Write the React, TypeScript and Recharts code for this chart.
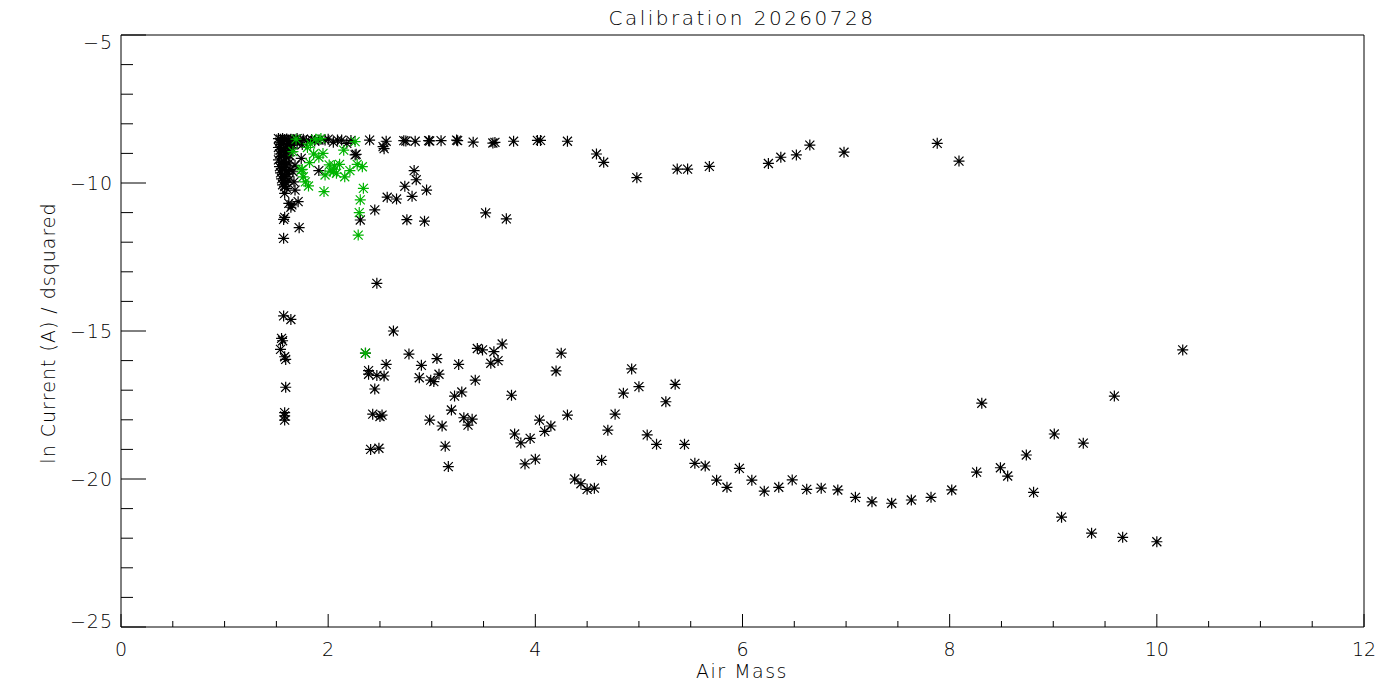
import React from "react"
import { ScatterChart, Scatter, XAxis, YAxis } from "recharts"

// air mass vs ln current
const blackPoints: [number, number][] = [
  // dense column near airmass 1.55
  [1.52, -8.5], [1.54, -8.52], [1.56, -8.5], [1.58, -8.53], [1.6, -8.51], [1.62, -8.55], [1.64, -8.52], [1.67, -8.54],
  [1.7, -8.5], [1.73, -8.55], [1.76, -8.52], [1.79, -8.56], [1.84, -8.53], [1.87, -8.58], [1.91, -8.55],
  [1.53, -8.62], [1.55, -8.7], [1.57, -8.66], [1.6, -8.75], [1.63, -8.68], [1.66, -8.72], [1.7, -8.65], [1.75, -8.7],
  [1.52, -8.8], [1.54, -8.88], [1.57, -8.84], [1.59, -8.95], [1.62, -8.9], [1.65, -8.82],
  [1.53, -9.02], [1.55, -9.1], [1.58, -9.05], [1.6, -9.15], [1.63, -9.08],
  [1.52, -9.22], [1.55, -9.3], [1.57, -9.26], [1.59, -9.38], [1.62, -9.33],
  [1.53, -9.45], [1.55, -9.52], [1.58, -9.48], [1.6, -9.58], [1.63, -9.55],
  [1.54, -9.66], [1.56, -9.72], [1.58, -9.78], [1.61, -9.7],
  [1.55, -9.86], [1.57, -9.92], [1.59, -9.98], [1.62, -9.9],
  [1.56, -10.06], [1.58, -10.12], [1.6, -10.18],
  [1.58, -10.35], [1.62, -10.69], [1.71, -10.63], [1.64, -10.82], [1.58, -11.16], [1.57, -11.23], [1.72, -11.51], [1.57, -11.87],
  [1.74, -9.17], [1.91, -9.58], [1.68, -10.24], [1.67, -9.96], [1.65, -10.74], [1.68, -9.4], [1.66, -9.62],
  // upper band
  [1.97, -8.55], [2.0, -8.52], [2.05, -8.62], [2.09, -8.55], [2.13, -8.55], [2.18, -8.66], [2.22, -8.56], [2.4, -8.55],
  [2.26, -9.05], [2.27, -9.03], [2.53, -8.77], [2.54, -8.84],
  [2.56, -8.59], [2.73, -8.57], [2.75, -8.58], [2.84, -8.59], [2.97, -8.57], [2.98, -8.58], [3.09, -8.57], [3.24, -8.55],
  [3.25, -8.57], [3.4, -8.62], [3.59, -8.65], [3.61, -8.63], [3.79, -8.59], [4.02, -8.56], [4.05, -8.56], [4.31, -8.59],
  [4.59, -9.02], [4.66, -9.3], [4.98, -9.82], [5.37, -9.53], [5.47, -9.53], [5.68, -9.44], [6.25, -9.34], [6.37, -9.13],
  [6.52, -9.05], [6.65, -8.72], [6.98, -8.96], [7.88, -8.66], [8.09, -9.26],
  [2.83, -9.58], [2.85, -9.89], [2.74, -10.11], [2.95, -10.24], [2.57, -10.48], [2.66, -10.54], [2.81, -10.45],
  [3.52, -11.01], [3.72, -11.21], [2.76, -11.24], [2.93, -11.29], [2.45, -10.91], [2.31, -11.25],
  // lower band
  [2.47, -13.39], [1.57, -14.49], [1.64, -14.61], [1.55, -15.25], [1.56, -15.33], [1.54, -15.62], [1.58, -15.87],
  [1.59, -15.96], [1.59, -16.9], [1.58, -17.76], [1.58, -17.87], [1.58, -18.01],
  [2.63, -15.0], [2.36, -15.75], [2.78, -15.78], [3.05, -15.93], [2.56, -16.13], [2.9, -16.16], [3.26, -16.13],
  [3.44, -15.59], [3.49, -15.64], [3.6, -15.7], [3.68, -15.44], [3.57, -16.09], [3.64, -16.0], [4.25, -15.75], [4.2, -16.35],
  [2.39, -16.34], [2.39, -16.46], [2.47, -16.5], [2.54, -16.52], [2.88, -16.58], [2.99, -16.66], [3.02, -16.71],
  [3.07, -16.46], [3.42, -16.66], [2.45, -16.96], [3.22, -17.2], [3.29, -17.06], [3.77, -17.17], [3.19, -17.67],
  [2.43, -17.81], [2.5, -17.89], [2.52, -17.84], [2.98, -18.01], [3.31, -17.93], [3.39, -17.98], [3.35, -18.18],
  [3.1, -18.21], [4.04, -18.01], [4.15, -18.21], [4.09, -18.39], [3.8, -18.48], [3.95, -18.63], [3.86, -18.78],
  [2.41, -19.0], [2.49, -18.96], [3.13, -18.89], [3.16, -19.58], [3.9, -19.49], [4.0, -19.33],
  [4.93, -16.28], [4.85, -17.1], [5.0, -16.88], [5.35, -16.8], [5.26, -17.39], [4.31, -17.84], [4.77, -17.81],
  [4.7, -18.35], [5.08, -18.51], [5.17, -18.83], [5.44, -18.83], [4.64, -19.37], [5.54, -19.47], [5.64, -19.56], [5.97, -19.64],
  [4.38, -20.0], [4.44, -20.16], [4.5, -20.35], [4.57, -20.31], [5.75, -20.04], [5.85, -20.28], [6.09, -20.04],
  [6.21, -20.41], [6.35, -20.28], [6.48, -20.03], [6.62, -20.35], [6.76, -20.31], [6.92, -20.37], [7.09, -20.62],
  [7.25, -20.77], [7.44, -20.82], [7.63, -20.71], [7.82, -20.62], [8.02, -20.37],
  [10.25, -15.64], [9.59, -17.2], [8.31, -17.44], [9.01, -18.48], [9.29, -18.79], [8.74, -19.19], [8.26, -19.77],
  [8.49, -19.62], [8.56, -19.9], [8.81, -20.45], [9.08, -21.29], [9.37, -21.83], [9.67, -21.97], [10.0, -22.12],
]

const greenPoints: [number, number][] = [
  [1.69, -8.52], [1.88, -8.52], [1.83, -8.68], [1.93, -8.5], [2.26, -8.6], [1.66, -8.94], [1.86, -9.02], [1.91, -9.13],
  [1.95, -9.0], [2.15, -8.89], [1.82, -9.31], [2.01, -9.39], [2.11, -9.37], [2.28, -9.37], [2.33, -9.45], [1.75, -9.54],
  [1.97, -9.73], [2.05, -9.62], [2.08, -9.67], [2.16, -9.79], [2.21, -9.58], [1.78, -9.96], [1.81, -10.1], [1.76, -9.79],
  [1.96, -10.29], [2.34, -10.18], [2.31, -10.57], [2.3, -11.0], [2.29, -11.76], [2.36, -15.75], [1.8, -8.8],
  [2.06, -9.42], [1.74, -9.56], [2.02, -9.6],
]

const xTicks = [0, 0.5, 1, 1.5, 2, 2.5, 3, 3.5, 4, 4.5, 5, 5.5, 6, 6.5, 7, 7.5, 8, 8.5, 9, 9.5, 10, 10.5, 11, 11.5, 12]
const yTicks = [-25, -24, -23, -22, -21, -20, -19, -18, -17, -16, -15, -14, -13, -12, -11, -10, -9, -8, -7, -6, -5]

const toRows = (pts: [number, number][]) => pts.map(([x, y]) => ({ x, y }))

const font = "'DejaVu Sans', sans-serif"
const fmt = (v: number) => String(v).replace("-", "\u2212")

const Star = (props: any) => {
  const { cx, cy, fill } = props
  const r = 5.5
  const d = 4.5
  return (
    <path
      d={`M${cx - r},${cy}H${cx + r}M${cx},${cy - r}V${cy + r}M${cx - d},${cy - d}L${cx + d},${cy + d}M${cx - d},${cy + d}L${cx + d},${cy - d}`}
      stroke={fill}
      strokeWidth={1.2}
      fill="none"
    />
  )
}

const BottomTick = (props: any) => {
  const { x, y, payload } = props
  const major = payload.value % 2 === 0
  return (
    <g>
      <line x1={x} x2={x} y1={y} y2={y - (major ? 13 : 6)} stroke="#000" />
      {major && (
        <text x={x} y={y + 29} textAnchor="middle" fontSize={19} fontFamily={font} fontWeight={200} fill="#000">
          {fmt(payload.value)}
        </text>
      )}
    </g>
  )
}

const TopTick = (props: any) => {
  const { x, y, payload } = props
  const major = payload.value % 2 === 0
  return <line x1={x} x2={x} y1={y} y2={y + (major ? 13 : 6)} stroke="#000" />
}

// the end labels sit inside the frame in the original
const yLabelShift = (v: number) => (v === -5 ? 7 : v === -25 ? -6 : 0)

const LeftTick = (props: any) => {
  const { x, y, payload } = props
  const major = payload.value % 5 === 0
  return (
    <g>
      <line x1={x} x2={x + (major ? 25 : 12)} y1={y} y2={y} stroke="#000" />
      {major && (
        <text
          x={x - 8}
          y={y + yLabelShift(payload.value)}
          textAnchor="end"
          dominantBaseline="central"
          fontSize={19}
          fontFamily={font}
          fontWeight={200}
          letterSpacing={1}
          fill="#000"
        >
          {fmt(payload.value)}
        </text>
      )}
    </g>
  )
}

const RightTick = (props: any) => {
  const { x, y, payload } = props
  const major = payload.value % 5 === 0
  return <line x1={x} x2={x - (major ? 25 : 12)} y1={y} y2={y} stroke="#000" />
}

const labelProps = {
  fontFamily: font,
  fontWeight: 200,
  fontSize: 19,
  fill: "#000",
  textAnchor: "middle" as const,
  dominantBaseline: "central" as const,
}

export default function App() {
  return (
    <div style={{ position: "absolute", left: 0, top: 0, width: 1400, height: 700, background: "#fff" }}>
      <ScatterChart width={1400} height={700} margin={{ top: 34, right: 35, bottom: 33, left: 61 }}>
        <XAxis
          xAxisId="bottom"
          type="number"
          dataKey="x"
          domain={[0, 12]}
          ticks={xTicks}
          interval={0}
          height={40}
          tickSize={0}
          tickMargin={0}
          tickLine={false}
          axisLine={{ stroke: "#000" }}
          tick={<BottomTick />}
        />
        <XAxis
          xAxisId="top"
          orientation="top"
          type="number"
          dataKey="x"
          domain={[0, 12]}
          ticks={xTicks}
          interval={0}
          height={1}
          tickSize={0}
          tickMargin={0}
          tickLine={false}
          axisLine={{ stroke: "#000" }}
          tick={<TopTick />}
        />
        <YAxis
          yAxisId="left"
          type="number"
          dataKey="y"
          domain={[-25, -5]}
          ticks={yTicks}
          interval={0}
          width={60}
          tickSize={0}
          tickMargin={0}
          tickLine={false}
          axisLine={{ stroke: "#000" }}
          tick={<LeftTick />}
        />
        <YAxis
          yAxisId="right"
          orientation="right"
          type="number"
          dataKey="y"
          domain={[-25, -5]}
          ticks={yTicks}
          interval={0}
          width={1}
          tickSize={0}
          tickMargin={0}
          tickLine={false}
          axisLine={{ stroke: "#000" }}
          tick={<RightTick />}
        />
        <Scatter
          xAxisId="bottom"
          yAxisId="left"
          data={toRows(blackPoints)}
          fill="#000"
          shape={<Star />}
          isAnimationActive={false}
        />
        <Scatter
          xAxisId="bottom"
          yAxisId="left"
          data={toRows(greenPoints)}
          fill="#00b400"
          shape={<Star />}
          isAnimationActive={false}
        />
      </ScatterChart>
      <svg width={1400} height={700} style={{ position: "absolute", left: 0, top: 0, pointerEvents: "none" }}>
        <text x={742} y={18} letterSpacing={2.5} {...labelProps} fontSize={20}>
          Calibration 20260728
        </text>
        <text x={742} y={671} letterSpacing={1.5} {...labelProps}>
          Air Mass
        </text>
        <text x={48} y={333} letterSpacing={1} transform="rotate(-90 48 333)" {...labelProps}>
          ln Current (A) / dsquared
        </text>
      </svg>
    </div>
  )
}
